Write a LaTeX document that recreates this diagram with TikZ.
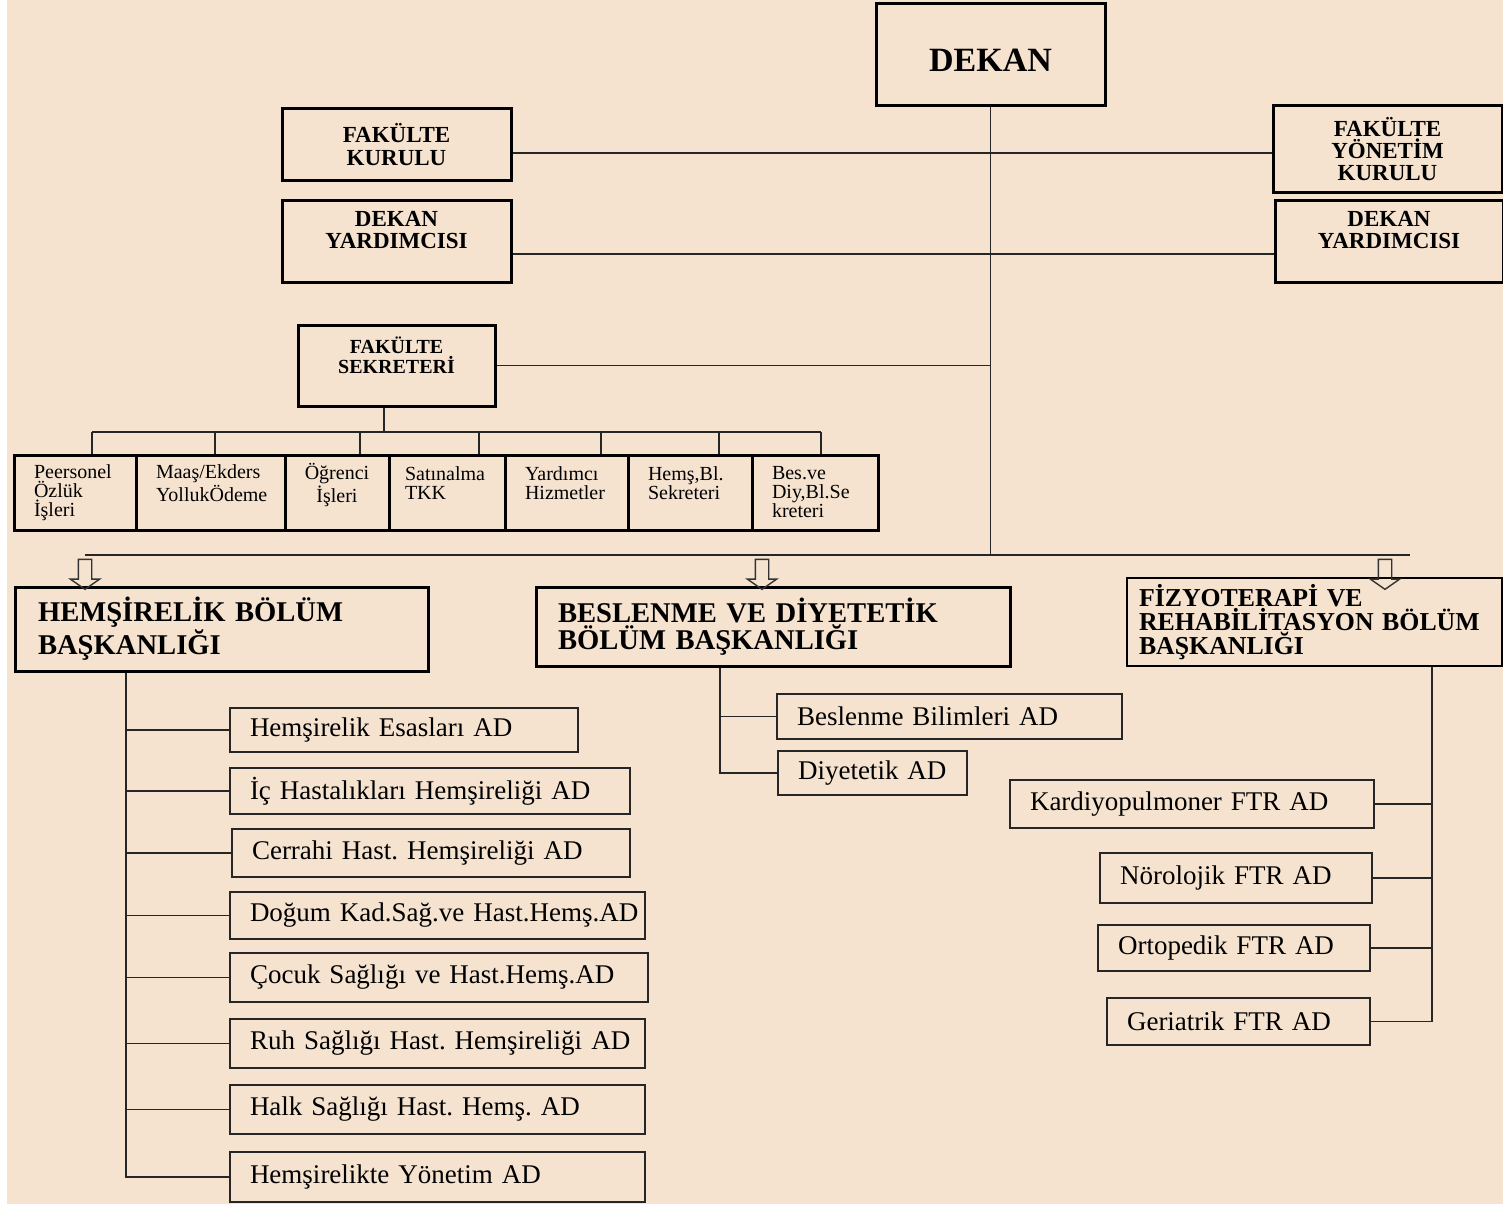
\documentclass[tikz,border=0pt]{standalone}
\usepackage{fontspec}
\setmainfont{Liberation Serif}[WordSpace=0.8]
\usetikzlibrary{shapes.arrows}
\definecolor{pagetan}{HTML}{F5E3D0}
\frenchspacing
\lineskiplimit=-100pt

\begin{document}
\begin{tikzpicture}[
    x=0.5pt, y=-0.5pt,
    headbox/.style={draw=black, line width=1.5pt, align=center, inner sep=2pt, font=\fontsize{11.5}{11.2}\selectfont\bfseries},
    officebox/.style={draw=black, line width=1.5pt, minimum height=37.5pt, inner xsep=10pt, inner ysep=0pt, text width=#1, align=left, font=\fontsize{10}{9.5}\selectfont},
    deptbox/.style={draw=black, line width=1.5pt, text width=#1, align=left, font=\fontsize{14.3}{13.5}\selectfont\bfseries},
    adbox/.style={draw=black!85, line width=0.9pt, inner xsep=2pt, text width=#1, align=left, font=\fontsize{13.5}{16}\selectfont,
        execute at begin node={\hspace*{8pt}\hbox\bgroup}, execute at end node={\egroup}},
    link/.style={draw=black!85, line width=0.8pt},
    hollow/.style={single arrow, draw=black!80, line width=0.7pt, rotate=-90, minimum height=15pt, minimum width=14pt, single arrow head extend=4pt, single arrow tip angle=110, inner sep=3pt}
    ]
        \useasboundingbox (0,0) rectangle (1503,1204);
        \fill[white] (0,0) rectangle (1503,1204);
        \fill[pagetan] (7,0) rectangle (1503,1204);

        %Nodes
        \node[headbox, minimum width=114.5pt, minimum height=51pt, text height=17pt, font=\fontsize{17}{20}\selectfont\bfseries]
            (dekan) at (990.5,55)   {DEKAN};
        \node[headbox, minimum width=114.5pt, minimum height=35.5pt]
            (fk)    at (396.5,144.5) {FAKÜLTE\\KURULU};
        \node[headbox, minimum width=114.5pt, minimum height=43pt]
            (fyk)   at (1387.5,149) {FAKÜLTE\\YÖNETİM\\KURULU};
        \node[headbox, minimum width=114.5pt, minimum height=41pt]
            (dyl)   at (396.5,241)  {DEKAN\\YARDIMCISI\\~};
        \node[headbox, minimum width=114pt, minimum height=41pt]
            (dyr)   at (1389,241)   {DEKAN\\YARDIMCISI\\~};
        \node[headbox, minimum width=98.5pt, minimum height=40.5pt, font=\fontsize{10}{10}\selectfont\bfseries]
            (fs)    at (396.5,365.5) {FAKÜLTE\\SEKRETERİ\\~};

        \node[officebox=41pt]   (peo)  at (75,492.5)    {Peersonel\\Özlük\\İşleri};
        \node[officebox=54.5pt] (maas) at (210.5,492.5) {Maaş/Ekders\\YollukÖdeme\\~};
        \node[officebox=40pt, inner xsep=6pt, align=center]
                                (ogr)  at (337,492.5)   {Öğrenci\\İşleri\\~};
        \node[officebox=42pt, inner xsep=8pt]
                                (sat)  at (447,492.5)   {Satınalma\\TKK\\~};
        \node[officebox=41.5pt] (yrd)  at (566.5,492.5) {Yardımcı\\Hizmetler\\~};
        \node[officebox=42pt]   (hsek) at (690,492.5)   {Hemş,Bl.\\Sekreteri\\~};
        \node[officebox=43pt]   (bsek) at (815,492.5)   {Bes.ve\\Diy,Bl.Se\\kreteri};

        \node[deptbox=183.5pt, inner xsep=11.5pt, minimum height=42pt]
            (hb)    at (221.5,629)  {HEMŞİRELİK BÖLÜM\\BAŞKANLIĞI};
        \node[deptbox=215pt, inner xsep=11pt, minimum height=39.5pt]
            (bb)    at (773,626.5)  {BESLENME VE DİYETETİK\\BÖLÜM BAŞKANLIĞI};
        \node[deptbox=175.5pt, inner xsep=6pt, minimum height=38pt, line width=0.9pt, font=\fontsize{12.9}{12}\selectfont\bfseries]
            (fb)    at (1314.5,622) {FİZYOTERAPİ VE\\REHABİLİTASYON BÖLÜM\\BAŞKANLIĞI};

        \node[adbox=170pt,   minimum height=22pt]   (h1) at (404,730)    {Hemşirelik Esasları AD};
        \node[adbox=196pt,   minimum height=23pt]   (h2) at (430,791)    {İç Hastalıkları Hemşireliği AD};
        \node[adbox=195pt,   minimum height=24pt]   (h3) at (431,853)    {Cerrahi Hast. Hemşireliği AD};
        \node[adbox=203.5pt, minimum height=23.5pt] (h4) at (437.5,915.5) {Doğum Kad.Sağ.ve Hast.Hemş.AD};
        \node[adbox=205pt,   minimum height=24.5pt] (h5) at (439,977.5)  {Çocuk Sağlığı ve Hast.Hemş.AD};
        \node[adbox=203.5pt, minimum height=24.5pt] (h6) at (437.5,1043.5) {Ruh Sağlığı Hast. Hemşireliği AD};
        \node[adbox=203.5pt, minimum height=24.5pt] (h7) at (437.5,1109.5) {Halk Sağlığı Hast. Hemş. AD};
        \node[adbox=203.5pt, minimum height=25pt]   (h8) at (437.5,1177) {Hemşirelikte Yönetim AD};

        \node[adbox=168.5pt, minimum height=22.5pt] (b1) at (949.5,716.5) {Beslenme Bilimleri AD};
        \node[adbox=90.5pt,  minimum height=22pt]   (b2) at (872.5,773)   {Diyetetik AD};

        \node[adbox=178pt,   minimum height=24pt]   (f1) at (1192,804)    {Kardiyopulmoner FTR AD};
        \node[adbox=132pt,   minimum height=25pt]   (f2) at (1236,878)    {Nörolojik FTR AD};
        \node[adbox=132pt,   minimum height=23pt]   (f3) at (1234,948)    {Ortopedik FTR AD};
        \node[adbox=127.5pt, minimum height=23.5pt] (f4) at (1238.5,1021.5) {Geriatrik FTR AD};

        \node[hollow] (arh) at (85,572)   {};
        \node[hollow] (arb) at (762,572)  {};
        \node[hollow] (arf) at (1385,572) {};

        %Lines
        \coordinate (jfk)   at (990.5,153);
        \coordinate (jdy)   at (990.5,254);
        \coordinate (jfs)   at (990.5,365.5);
        \coordinate (bus)   at (85,555);
        \coordinate (busend) at (1410,555);
        \coordinate (secbus) at (384,432);

        \draw[link] (dekan.south) -- (dekan.south |- bus);
        \draw[link] (bus) -- (busend);
        \draw[link] (fk.east |- jfk) -- (fyk.west |- jfk);
        \draw[link] (dyl.east |- jdy) -- (dyr.west |- jdy);
        \draw[link] (fs.east) -- (jfs);

        \draw[link] (fs.south -| secbus) -- (secbus);
        \draw[link] (92,432) -- (821,432);
        \foreach \x/\n in {92/peo, 215/maas, 360/ogr, 479/sat, 601/yrd, 719/hsek, 821/bsek}{
            \path (\x,432) coordinate (drop);
            \draw[link] (drop) -- (drop |- \n.north);
        }

        \coordinate (htr) at (126,0);
        \draw[link] (hb.south -| htr) |- (h8.west);
        \foreach \n in {h1,h2,h3,h4,h5,h6,h7}
            \draw[link] (\n.west -| htr) -- (\n.west);

        \coordinate (btr) at (720,0);
        \draw[link] (bb.south -| btr) |- (b2.west);
        \draw[link] (b1.west -| btr) -- (b1.west);

        \coordinate (ftr) at (1432,0);
        \draw[link] (fb.south -| ftr) |- (f4.east);
        \foreach \n in {f1,f2,f3}
            \draw[link] (\n.east -| ftr) -- (\n.east);
\end{tikzpicture}
\end{document}
